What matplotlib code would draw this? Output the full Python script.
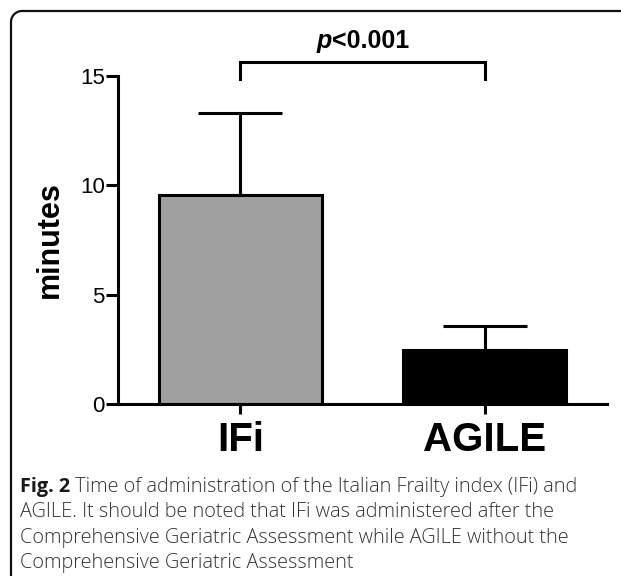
import matplotlib
matplotlib.use('Agg')
import matplotlib.pyplot as plt
from matplotlib.lines import Line2D
import numpy as np

# data
groups = ['IFi', 'AGILE']
means = [9.55, 2.47]
sd = [3.75, 1.1]
bar_colors = ['#a0a0a0', '#000000']

caption_bold = 'Fig. 2'
caption_lines = [
    ' Time of administration of the Italian Frailty index (IFi) and',
    'AGILE. It should be noted that IFi was administered after the',
    'Comprehensive Geriatric Assessment while AGILE without the',
    'Comprehensive Geriatric Assessment',
]

plt.rcParams['font.family'] = ['Liberation Sans', 'DejaVu Sans']

W, H = 621, 576
fig = plt.figure(figsize=(W/100, H/100), dpi=100)
ax = fig.add_axes([118/W, 1 - 404/H, (607-118)/W, 328/H])

x = list(range(len(groups)))
ax.bar(x, means, width=0.667, color=bar_colors, edgecolor='black', linewidth=2.2, zorder=2)
ax.errorbar(x, means, yerr=[[0, 0], sd], fmt='none', ecolor='black',
            elinewidth=2.2, capsize=30, capthick=2.2, zorder=1)

ax.set_xlim(-0.5, 1.5)
ax.set_ylim(0, 15)
ax.set_yticks([0, 5, 10, 15])
ax.set_xticks(x)
ax.set_xticklabels(groups, fontsize=29, fontweight='bold')
ax.tick_params(axis='y', labelsize=16, width=2.2, length=8.5, pad=1)
ax.tick_params(axis='x', width=2.2, length=7, pad=5)
ax.set_ylabel('minutes', fontsize=22, fontweight='bold', labelpad=11)
for s in ['top', 'right']:
    ax.spines[s].set_visible(False)
for s in ['left', 'bottom']:
    ax.spines[s].set_linewidth(2.2)

# significance bracket
yb, yl = 15.62, 14.85
ax.plot([x[0], x[0], x[1], x[1]], [yl, yb, yb, yl], color='black', lw=2.2,
        clip_on=False, solid_joinstyle='miter')

fig.canvas.draw()
r = fig.canvas.get_renderer()
xc = (x[0] + x[1]) / 2
tp = ax.text(xc, 16.05, 'p', ha='right', va='bottom', fontsize=18,
             fontweight='bold', fontstyle='italic')
tr = ax.text(xc, 16.05, '<0.001', ha='left', va='bottom', fontsize=18, fontweight='bold')
wp = tp.get_window_extent(r).width
wr = tr.get_window_extent(r).width
dx = (wp - (wp + wr) / 2) / ax.transData.get_matrix()[0, 0]
tp.set_x(xc + dx)
tr.set_x(xc + dx)

# border: left and top edges with a rounded corner (pixel coords)
bx, by, rad = 11, 11, 11
th = np.linspace(np.pi, np.pi / 2, 20)
px = np.concatenate([[bx], bx + rad + rad*np.cos(th), [W + 20]])
py = np.concatenate([[H + 20], by + rad - rad*np.sin(th), [by]])
fig.add_artist(Line2D(px / W, 1 - py / H, transform=fig.transFigure,
                      color='#111111', lw=1.6, clip_on=False))

# caption
fs = 14.3
cap_kw = dict(fontsize=fs, family='Open Sans', color='#333333', fontweight='light')
y0 = 1 - 487/H
step = 25.3/H
t0 = fig.text(20/W, y0, caption_bold, fontweight='bold', va='center', fontsize=fs,
              family='Open Sans', color='#1a1a1a')
ann = plt.Annotation(caption_lines[0], xy=(1, 0.5), xycoords=t0, va='center', **cap_kw)
fig.add_artist(ann)
for i, line in enumerate(caption_lines[1:], start=1):
    fig.text(20/W, y0 - i*step, line, va='center', **cap_kw)

fig.savefig('out.png', dpi=100)
